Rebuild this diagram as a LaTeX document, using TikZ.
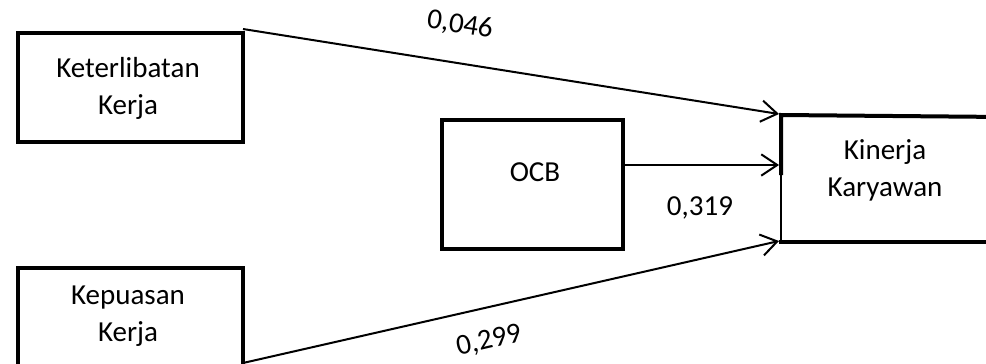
\documentclass[tikz,border=0pt]{standalone}
\usepackage{fontspec}
\setmainfont{Carlito}
\usetikzlibrary{arrows.meta}
\begin{document}
\begin{tikzpicture}[x=0.75pt,y=-0.75pt,
  box/.style={draw=black,line width=3pt,rectangle,inner sep=0pt,anchor=north west},
  lbl/.style={font=\fontsize{21.75}{27.75}\selectfont,align=center,inner sep=0pt},
  num/.style={font=\fontsize{21.75}{26}\selectfont,inner sep=0pt},
  conn/.style={line width=1.5pt,-{Straight Barb[length=12pt,width=16pt,line width=1.5pt]}}]
\useasboundingbox (0,0) rectangle (986,364);
% boxes
\node[box,minimum width=168.75pt,minimum height=81.75pt] (k1) at (16,31) {};
\node[box,minimum width=168.75pt,minimum height=87pt] (k2) at (16,266) {};
\node[box,minimum width=135.75pt,minimum height=96.75pt] (ocb) at (440,118) {};
\node[inner sep=0pt,minimum width=165.75pt,minimum height=93pt,anchor=north west] (kin) at (781,117) {};
% Kinerja box edges
\draw[line width=3pt] ([xshift=1.5pt]kin.north east) -- ([yshift=1.5pt]kin.north west) -- ([yshift=-43.5pt]kin.north west);
\draw[line width=0.8pt] ([yshift=-43.5pt]kin.north west) -- (kin.south west);
\draw[line width=3pt] ([xshift=-1.5pt]kin.south west) -- ([xshift=1.5pt]kin.south east);
% texts
\node[lbl] (t1) at (128,88) {Keterlibatan\\Kerja};
\node[lbl] (t2) at (128,316) {Kepuasan\\Kerja};
\node[lbl] (t3) at (535,172) {OCB};
\node[lbl] (t4) at (885,170) {Kinerja\\Karyawan};
% connectors
\coordinate (s1) at (243,29);
\coordinate (e1) at (779,114);
\coordinate (s3) at (243,363);
\coordinate (s2) at (623,165);
\coordinate (e2) at (779,165);
\coordinate (e3) at (779,241);
\draw[conn] (s1) -- (e1);
\draw[conn] (s2) -- (e2);
\draw[conn] (s3) -- (e3);
% numbers
\node[num,rotate=-9] (n1) at (460,25) {0,046};
\node[num] (n2) at (700,208) {0,319};
\node[num,rotate=13] (n3) at (489,341) {0,299};
\end{tikzpicture}
\end{document}
